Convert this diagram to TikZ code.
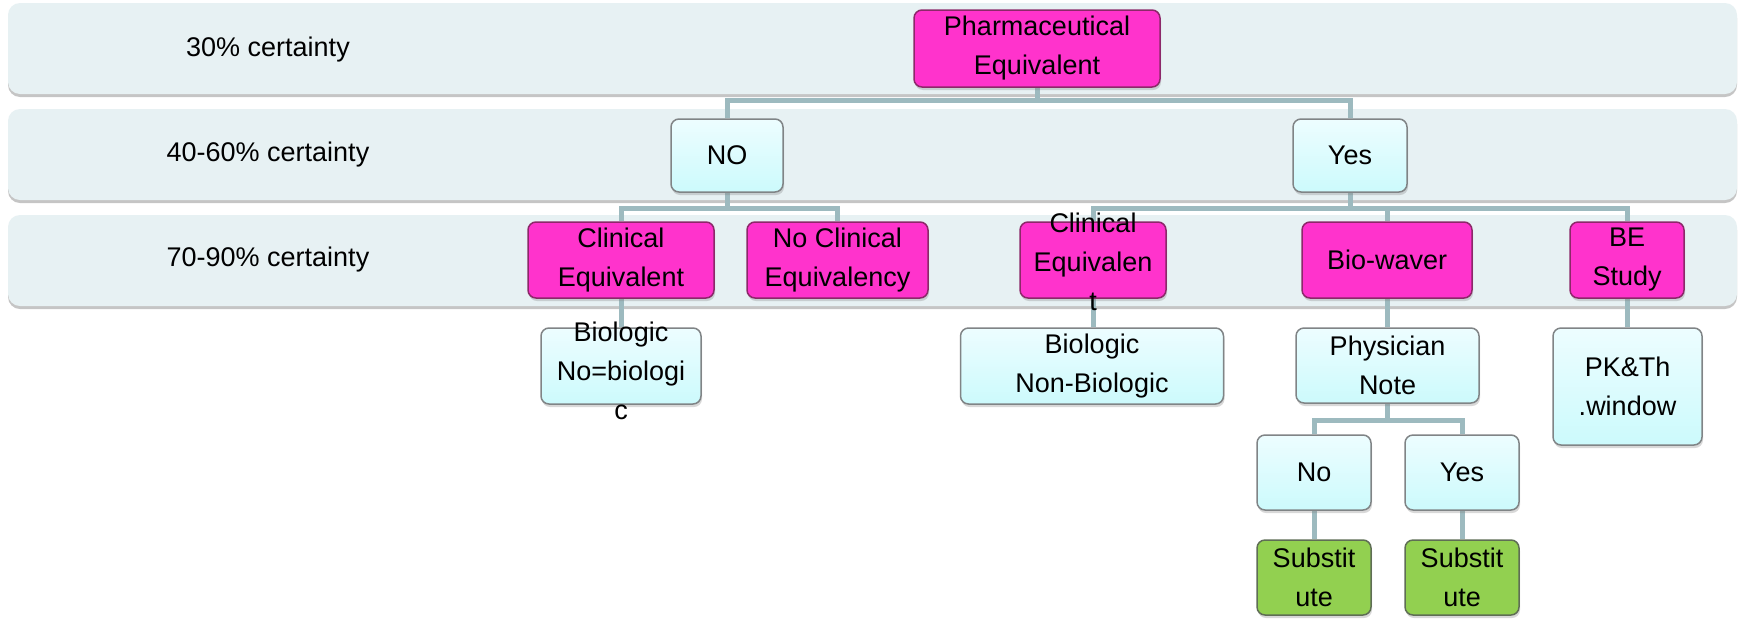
\documentclass[tikz,border=0pt]{standalone}
\usepackage{fontspec}
\setmainfont{Liberation Sans}
\usetikzlibrary{shadows}
\definecolor{bandfill}{RGB}{231,241,243}
\definecolor{magfill}{RGB}{255,51,204}
\definecolor{magborder}{RGB}{140,40,105}
\definecolor{litetop}{RGB}{237,253,255}
\definecolor{litebot}{RGB}{204,250,252}
\definecolor{liteborder}{RGB}{128,132,134}
\definecolor{grnfill}{RGB}{146,208,80}
\definecolor{grnborder}{RGB}{95,110,85}
\definecolor{conncol}{RGB}{157,186,191}
\pgfdeclarelayer{bands}
\pgfdeclarelayer{lines}
\pgfsetlayers{bands,lines,main}
\begin{document}
\begin{tikzpicture}[x=1pt,y=-1pt,
  txt/.style={font=\fontsize{27}{39}\selectfont, align=center, inner sep=0pt},
  box/.style={txt, rounded corners=8pt, line width=1.5pt,
    drop shadow={shadow xshift=1pt, shadow yshift=-3pt, opacity=0.3}},
  mag/.style={box, draw=magborder, fill=magfill},
  lite/.style={box, draw=liteborder, top color=litetop, bottom color=litebot},
  grn/.style={box, draw=grnborder, fill=grnfill},
  band/.style={fill=bandfill, rounded corners=12pt,
    drop shadow={shadow xshift=0pt, shadow yshift=-3pt, opacity=0.45}},
  conn/.style={draw=conncol, line width=5pt},
  sz/.style 2 args={minimum width=#1pt, minimum height=#2pt}
]
\useasboundingbox (0,0) rectangle (1750,619);

% bands
\begin{pgfonlayer}{bands}
\fill[white] (0,0) rectangle (1750,619);
\path[band] (8,3) rectangle (1737,94);
\path[band] (8,109) rectangle (1737,200);
\path[band] (8,215) rectangle (1737,306);
\end{pgfonlayer}
\node[txt] (l1) at (268,50) {30\% certainty};
\node[txt] (l2) at (268,155) {40-60\% certainty};
\node[txt] (l3) at (268,260) {70-90\% certainty};

% level 1
\node[mag, sz={246}{77}] (pharm) at (1037,48.5) {Pharmaceutical\\Equivalent};
% level 2
\node[lite, sz={112}{73}] (no1) at (727,155.5) {NO};
\node[lite, sz={114}{73}] (yes1) at (1350,155.5) {Yes};
% level 3
\node[mag, sz={186}{76}] (ce1) at (621,260) {Clinical\\Equivalent};
\node[mag, sz={181}{76}] (nce) at (837.5,260) {No Clinical\\Equivalency};
\node[mag, sz={146}{76}] (ce2) at (1093,260) {};
\node[txt] (ce2t) at (1093,262) {Clinical\\Equivalen\\t};
\node[mag, sz={170}{76}] (bw) at (1387,260) {Bio-waver};
\node[mag, sz={114}{76}] (be) at (1627,260) {BE\\Study};
% level 4
\node[lite, sz={160}{76}] (bio1) at (621,366) {};
\node[txt] (bio1t) at (621,371) {Biologic\\No=biologi\\c};
\node[lite, sz={263}{76}] (bio2) at (1092,366) {Biologic\\Non-Biologic};
\node[lite, sz={183}{75}] (phys) at (1387.5,365.5) {Physician\\Note};
\node[lite, sz={149}{117}] (pk) at (1627.5,386.5) {PK\&Th\\.window};
% level 5
\node[lite, sz={114}{75}] (no2) at (1314,472.5) {No};
\node[lite, sz={114}{75}] (yes2) at (1462,472.5) {Yes};
% level 6
\node[grn, sz={114}{75}] (sub1) at (1314,577.5) {Substit\\ute};
\node[grn, sz={114}{75}] (sub2) at (1462,577.5) {Substit\\ute};

% junctions
\coordinate (j1) at (1037,100);
\coordinate (j2) at (727,208);
\coordinate (j3) at (1350,208);
\coordinate (j4) at (1387.5,420);

\begin{pgfonlayer}{lines}
\draw[conn] (pharm.south) -- (j1);
\draw[conn] (no1.north) |- (j1) -| (yes1.north);
\draw[conn] (no1.south) -- (j2);
\draw[conn] (ce1.north) |- (j2) -| (nce.north);
\draw[conn] (yes1.south) -- (j3);
\draw[conn] (ce2.north) |- (j3) -| (be.north);
\draw[conn] (bw.north) -- (bw.north |- j3);
\draw[conn] (ce1.south) -- (ce1.south |- bio1.north);
\draw[conn] (ce2.south) -- (ce2.south |- bio2.north);
\draw[conn] (bw.south) -- (bw.south |- phys.north);
\draw[conn] (be.south) -- (be.south |- pk.north);
\draw[conn] (phys.south) -- (j4);
\draw[conn] (no2.north) |- (j4) -| (yes2.north);
\draw[conn] (no2.south) -- (sub1.north);
\draw[conn] (yes2.south) -- (sub2.north);
\end{pgfonlayer}
\end{tikzpicture}
\end{document}
